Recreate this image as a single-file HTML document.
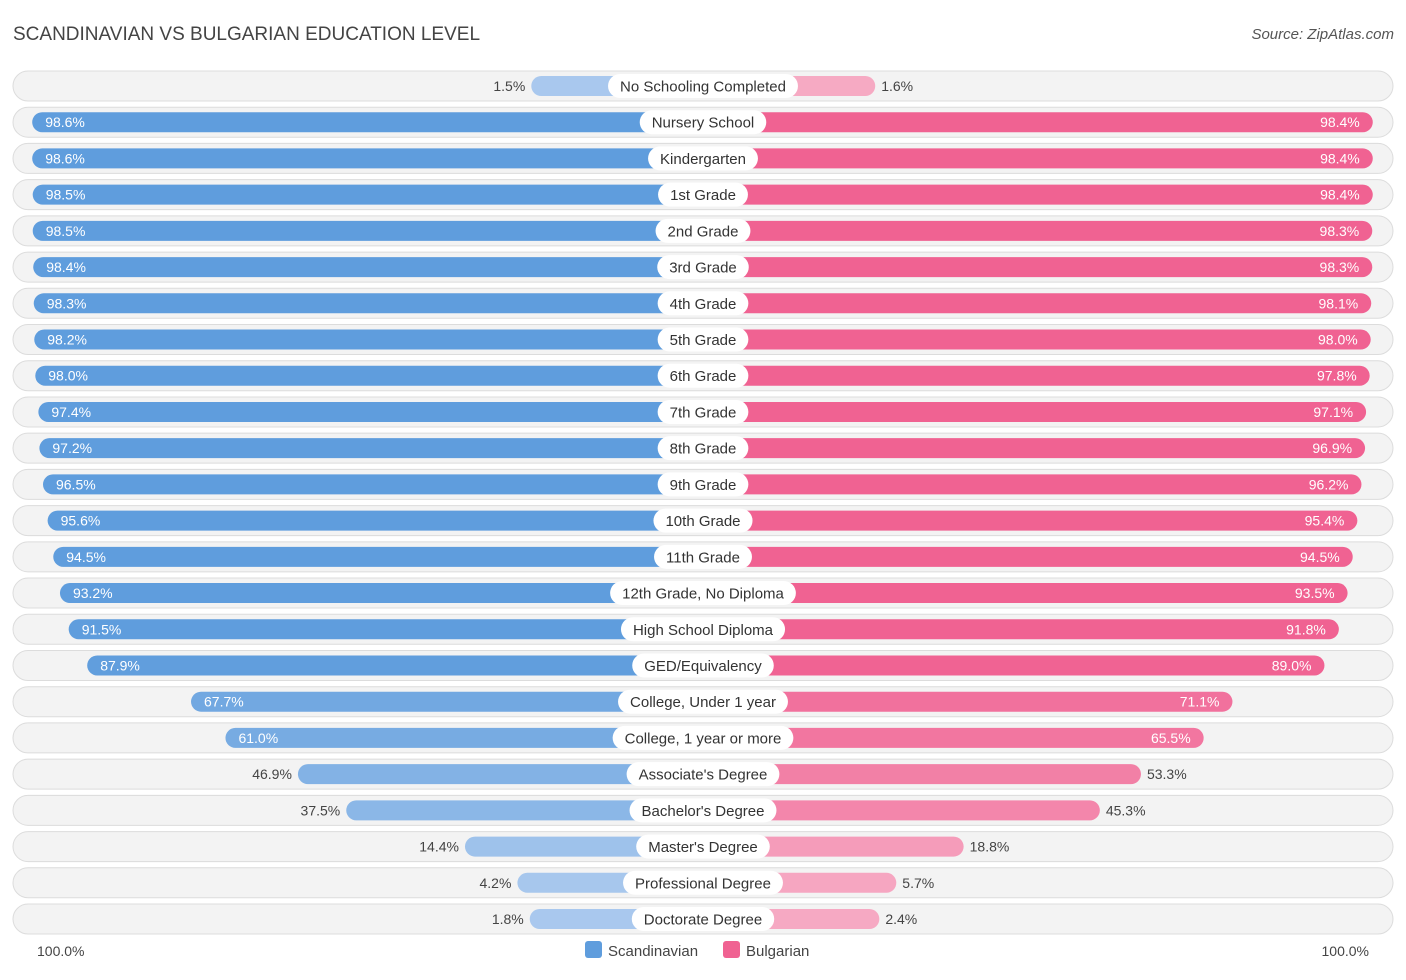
<!DOCTYPE html>
<html><head><meta charset="utf-8">
<style>
body{margin:0;background:#fff;font-family:"Liberation Sans",sans-serif;}
svg text{font-family:"Liberation Sans",sans-serif;}
</style></head>
<body>
<svg id="chart" width="1406" height="975">
<text x="13" y="40" font-size="19" fill="#444">SCANDINAVIAN VS BULGARIAN EDUCATION LEVEL</text>
<text x="1394" y="39" font-size="15" fill="#555" font-style="italic" text-anchor="end">Source: ZipAtlas.com</text>
<g id="rows"></g>
<text x="37" y="956" font-size="14" fill="#444">100.0%</text>
<text x="1369" y="956" font-size="14" fill="#444" text-anchor="end">100.0%</text>
<rect x="585" y="941" width="17" height="17" rx="3" fill="#5f9ddd"/>
<text x="608" y="956" font-size="15" fill="#444">Scandinavian</text>
<rect x="723" y="941" width="17" height="17" rx="3" fill="#f06292"/>
<text x="746" y="956" font-size="15" fill="#444">Bulgarian</text>
</svg>
<script>
const categories=["No Schooling Completed","Nursery School","Kindergarten","1st Grade","2nd Grade","3rd Grade","4th Grade","5th Grade","6th Grade","7th Grade","8th Grade","9th Grade","10th Grade","11th Grade","12th Grade, No Diploma","High School Diploma","GED/Equivalency","College, Under 1 year","College, 1 year or more","Associate's Degree","Bachelor's Degree","Master's Degree","Professional Degree","Doctorate Degree"];
const scandinavian=[1.5,98.6,98.6,98.5,98.5,98.4,98.3,98.2,98.0,97.4,97.2,96.5,95.6,94.5,93.2,91.5,87.9,67.7,61.0,46.9,37.5,14.4,4.2,1.8];
const bulgarian=[1.6,98.4,98.4,98.4,98.3,98.3,98.1,98.0,97.8,97.1,96.9,96.2,95.4,94.5,93.5,91.8,89.0,71.1,65.5,53.3,45.3,18.8,5.7,2.4];
const NS="http://www.w3.org/2000/svg";
const g=document.getElementById('rows');
const cx=703, y0=86, dy=(919-86)/(categories.length-1);
function barLen(v){return 164+5.14*v;}
function mix(a,b,t){return 'rgb('+a.map((c,i)=>Math.round(c+(b[i]-c)*t)).join(',')+')';}
function blue(v){return mix([170,201,238],[95,157,221],Math.min(1,v/90));}
function pink(v){return mix([246,171,196],[240,98,146],Math.min(1,v/90));}
function el(tag,attrs,parent){const e=document.createElementNS(NS,tag);for(const k in attrs)e.setAttribute(k,attrs[k]);parent.appendChild(e);return e;}
const lbl=document.createElement('canvas').getContext('2d');lbl.font='15px "Liberation Sans"';
categories.forEach((c,i)=>{
  const y=y0+i*dy;
  const row=el('g',{},g);
  
  
  const bg=el('rect',{x:13,y:y-15,width:1380,height:30,rx:15,fill:'#f3f3f3',stroke:'#dcdcdc','stroke-width':1},row);
  
  
  const sv=scandinavian[i], bv=bulgarian[i];
  const ls=barLen(sv), lb=barLen(bv);
  const b1=el('rect',{x:cx-ls,y:y-10,width:ls,height:20,rx:10,fill:blue(sv)},row);
  
  
  const b2=el('rect',{x:cx,y:y-10,width:lb,height:20,rx:10,fill:pink(bv)},row);
  
  
  const t1=el('text',{y:y+5,'font-size':14},row);
  t1.textContent=sv.toFixed(1)+'%';
  if(sv>55){t1.setAttribute('x',cx-ls+13);t1.setAttribute('fill','#fff');}
  else{t1.setAttribute('x',cx-ls-6);t1.setAttribute('text-anchor','end');t1.setAttribute('fill','#444');}
  
  
  const t2=el('text',{y:y+5,'font-size':14},row);
  t2.textContent=bv.toFixed(1)+'%';
  if(bv>55){t2.setAttribute('x',cx+lb-13);t2.setAttribute('text-anchor','end');t2.setAttribute('fill','#fff');}
  else{t2.setAttribute('x',cx+lb+6);t2.setAttribute('fill','#444');}
  
  
  const w=lbl.measureText(c).width+24;
  const p=el('rect',{x:cx-w/2,y:y-12,width:w,height:24,rx:12,fill:'#fff'},row);
  
  
  const t=el('text',{x:cx,y:y+5.5,'font-size':15,'text-anchor':'middle',fill:'#333'},row);
  t.textContent=c;
  
  
});
</script>
</body></html>
